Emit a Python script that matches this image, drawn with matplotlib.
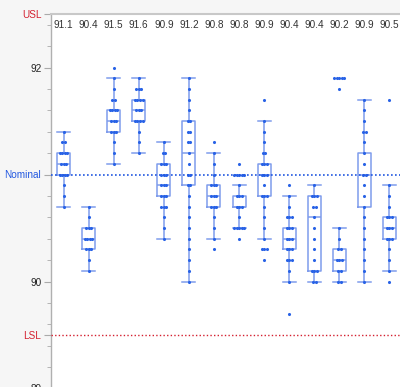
import matplotlib.pyplot as plt
import numpy as np

plt.rcParams['font.family'] = ['Liberation Sans', 'DejaVu Sans']

# mean of each group, shown along the top
means = ['91.1', '90.4', '91.5', '91.6', '90.9', '91.2', '90.8',
         '90.8', '90.9', '90.4', '90.4', '90.2', '90.9', '90.5']

points = [
    [91.4, 91.3, 91.3, 91.2, 91.2, 91.2, 91.2, 91.1, 91.1, 91.1, 91.0, 91.0, 91.0, 91.0, 90.9, 90.8, 90.7],
    [90.7, 90.6, 90.5, 90.5, 90.5, 90.4, 90.4, 90.4, 90.4, 90.3, 90.3, 90.3, 90.2, 90.1],
    [92.0, 91.9, 91.8, 91.7, 91.7, 91.6, 91.6, 91.6, 91.6, 91.5, 91.5, 91.5, 91.4, 91.4, 91.4, 91.3, 91.2, 91.1],
    [91.9, 91.8, 91.8, 91.8, 91.7, 91.7, 91.7, 91.7, 91.6, 91.6, 91.6, 91.5, 91.5, 91.5, 91.5, 91.4, 91.3, 91.2],
    [91.3, 91.2, 91.2, 91.1, 91.1, 91.1, 91.0, 91.0, 91.0, 90.9, 90.9, 90.9, 90.8, 90.8, 90.8,
     90.7, 90.7, 90.7, 90.6, 90.5, 90.4],
    [91.9, 91.8, 91.7, 91.6, 91.5, 91.5, 91.4, 91.4, 91.3, 91.3, 91.2, 91.1, 91.0, 91.0, 90.9, 90.9,
     90.8, 90.7, 90.6, 90.5, 90.4, 90.3, 90.2, 90.1, 90.0],
    [91.3, 91.2, 91.1, 91.0, 90.9, 90.9, 90.9, 90.8, 90.8, 90.8, 90.7, 90.7, 90.7, 90.6, 90.5, 90.4, 90.3],
    [91.1, 91.0, 91.0, 91.0, 91.0, 91.0, 90.9, 90.8, 90.8, 90.8, 90.7, 90.7, 90.7, 90.6,
     90.5, 90.5, 90.5, 90.5, 90.5, 90.4],
    [91.7, 91.5, 91.4, 91.3, 91.2, 91.2, 91.1, 91.1, 91.1, 91.0, 91.0, 91.0, 90.9, 90.8, 90.8, 90.8,
     90.7, 90.6, 90.5, 90.4, 90.3, 90.3, 90.3, 90.2],
    [90.9, 90.8, 90.7, 90.6, 90.6, 90.6, 90.5, 90.5, 90.5, 90.4, 90.4, 90.4, 90.3, 90.3, 90.3,
     90.2, 90.2, 90.2, 90.1, 90.0, 89.7],
    [90.9, 90.8, 90.8, 90.8, 90.7, 90.7, 90.6, 90.5, 90.4, 90.3, 90.2, 90.1, 90.1, 90.1, 90.0, 90.0],
    [91.9, 91.9, 91.9, 91.9, 91.9, 91.8, 90.5, 90.4, 90.3, 90.3, 90.2, 90.2, 90.2, 90.1, 90.1, 90.0, 90.0],
    [91.7, 91.6, 91.5, 91.4, 91.4, 91.3, 91.2, 91.1, 91.0, 91.0, 90.9, 90.8, 90.7, 90.6, 90.5,
     90.4, 90.3, 90.2, 90.1, 90.0],
    [91.7, 90.9, 90.8, 90.7, 90.6, 90.6, 90.6, 90.5, 90.5, 90.5, 90.4, 90.4, 90.4, 90.3, 90.2, 90.1, 90.0],
]

# box statistics per group
whislo = [90.7, 90.1, 91.1, 91.2, 90.4, 90.0, 90.4, 90.5, 90.4, 90.0, 90.0, 90.0, 90.0, 90.1]
q1 = [91.0, 90.3, 91.4, 91.5, 90.8, 90.9, 90.7, 90.7, 90.8, 90.3, 90.1, 90.1, 90.7, 90.4]
med = [91.1, 90.4, 91.5, 91.6, 90.9, 91.2, 90.8, 90.7, 91.0, 90.4, 90.6, 90.2, 91.0, 90.5]
q3 = [91.2, 90.5, 91.6, 91.7, 91.1, 91.5, 90.9, 90.8, 91.1, 90.5, 90.8, 90.3, 91.2, 90.6]
whishi = [91.4, 90.7, 91.9, 91.9, 91.3, 91.9, 91.2, 90.9, 91.5, 90.8, 90.9, 90.5, 91.7, 90.9]

usl, nominal, lsl = 92.5, 91.0, 89.5

boxc = '#7f9cec'
dotc = '#2862e6'
red = '#d42030'
blue = '#2157e0'

fig = plt.figure(figsize=(4, 3.87), dpi=100, facecolor='#f6f6f6')
ax = fig.add_axes([51/400, 1 - 14/387 - 428/387, 351/400, 428/387])
ax.set_facecolor('white')

stats = []
for i in range(len(points)):
    stats.append(dict(whislo=whislo[i], q1=q1[i], med=med[i], q3=q3[i],
                      whishi=whishi[i], fliers=[]))
lp = dict(color=boxc, lw=1.1)
ax.bxp(stats, positions=range(len(stats)), widths=0.52, capwidths=0.52,
       showfliers=False, boxprops=lp, whiskerprops=lp, capprops=lp,
       medianprops=lp)

for i, col in enumerate(points):
    vals, counts = np.unique(np.round(col, 1), return_counts=True)
    for v, c in zip(vals, counts):
        xs = i + (np.arange(c) - (c - 1) / 2) * 0.1
        ax.scatter(xs, [v] * c, s=5, marker='o', color=dotc, lw=0, zorder=3)

ax.axhline(nominal, color=blue, lw=1.2, ls=(0, (1, 1.4)), zorder=4)
ax.axhline(lsl, color=red, lw=1.0, ls=(0, (1, 1.6)), zorder=4)

for i, m in enumerate(means):
    ax.text(i, 0.975, m, transform=ax.get_xaxis_transform(), ha='center',
            va='center', fontsize=7.2, color='#333333')

ax.set_xlim(-0.5, 13.5)
ax.set_ylim(88.5, 92.5)
ax.set_xticks([])

yt = [89, lsl, 90, nominal, 92, usl]
ax.set_yticks(yt, labels=['89', 'LSL', '90', 'Nominal', '92', 'USL'])
ax.set_yticks(np.arange(88.6, 92.45, 0.2), minor=True)
ax.tick_params(axis='y', which='major', length=5, color='#aaaaaa',
               labelsize=7.2, labelcolor='#222222', pad=2)
ax.tick_params(axis='y', which='minor', length=3, color='#aaaaaa')
for t, v in zip(ax.yaxis.get_major_ticks(), yt):
    if v in (usl, lsl):
        t.label1.set_color(red)
        t.tick1line.set_color(red)
    elif v == nominal:
        t.label1.set_color(blue)
        t.tick1line.set_color(blue)

ax.spines['right'].set_visible(False)
ax.spines['bottom'].set_visible(False)
ax.spines['top'].set_color('#c8c8c8')
ax.spines['top'].set_linewidth(1.5)
ax.spines['left'].set_color('#b0b0b0')
ax.spines['left'].set_linewidth(1.0)

fig.savefig('out.png', dpi=100, facecolor=fig.get_facecolor())
